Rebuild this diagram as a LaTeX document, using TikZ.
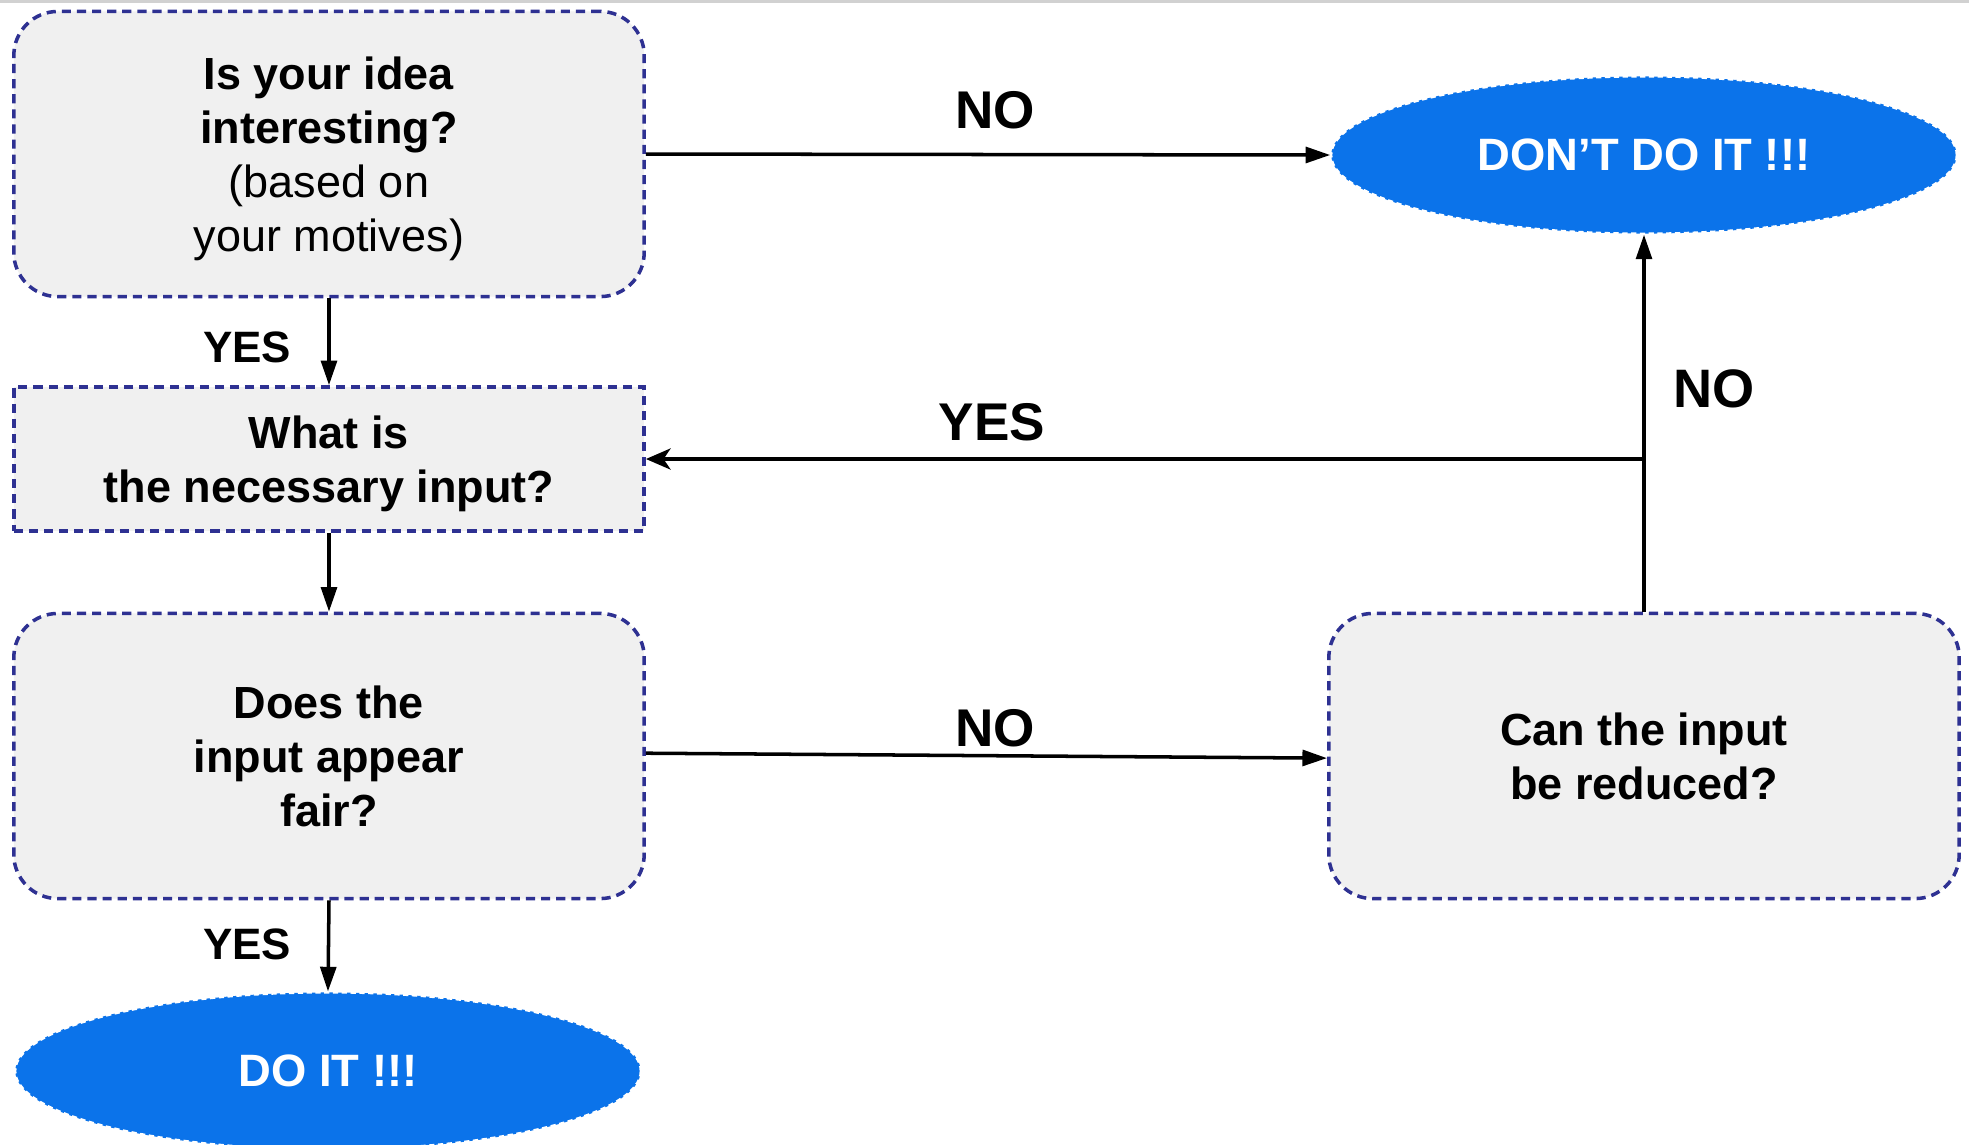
\documentclass[tikz,border=0pt]{standalone}
\usepackage{fontspec}
\setmainfont{Liberation Sans}
\usetikzlibrary{shapes.geometric, arrows.meta, positioning, calc}

\definecolor{boxline}{RGB}{46,49,146}
\definecolor{boxfill}{RGB}{240,240,240}
\definecolor{endblue}{RGB}{11,115,234}

\tikzset{
  question/.style={draw=boxline, fill=boxfill, line width=1pt, dash pattern=on 2.6pt off 1.7pt,
    rounded corners=0.44cm, minimum width=6.3cm, minimum height=2.85cm, align=center,
    inner sep=0pt, text depth=0pt, font=\fontsize{12.8}{15.4}\selectfont},
  inputbox/.style={question, rounded corners=0pt, minimum height=1.44cm},
  verdict/.style={ellipse, draw=white, fill=endblue, line width=0.6pt, dash pattern=on 1.5pt off 1pt,
    minimum width=6.25cm, minimum height=1.57cm, inner sep=0pt, text=white,
    font=\fontsize{12.9}{15}\selectfont\bfseries},
  link/.style={line width=1pt, -{Triangle[length=7pt,width=4.5pt]}},
  answer/.style={font=\fontsize{#1}{#1}\selectfont\bfseries},
  answer/.default=15
}

\begin{document}
\begin{tikzpicture}[x=0.01cm, y=-0.01cm]
\useasboundingbox (0,0) rectangle (1969,1144);
\fill[black!18] (0,0) rectangle (1969,3);
% questions
\node[question] (idea) at (329,154) {\textbf{Is your idea}\\\textbf{interesting?}\\(based on\\your motives)};
\node[inputbox] (need) at (329,459) {\textbf{What is}\\\textbf{the necessary input?}};
\node[question] (fair) at (329,756) {\textbf{Does the}\\\textbf{input appear}\\\textbf{fair?}};
\node[question] (reduce) at (1644,756) {\textbf{Can the input}\\\textbf{be reduced?}};
% outcomes
\node[verdict] (doit) at (328,1071) {DO IT !!!};
\node[verdict] (dont) at (1644,155) {DON’T DO IT !!!};
\coordinate (turn) at (1644,459);
% arrows
\draw[link] (idea.east) -- (dont.west);
\draw[link] (idea.south) -- (need.north);
\draw[link] (need.south) -- (fair.north);
\draw[link] ([yshift=0.8pt]fair.east) -- ([yshift=-0.6pt]reduce.west);
\draw[link] (fair.south) -- (doit.north);
\draw[link] (reduce.north) -- (dont.south);
\draw[line width=1pt, -{Stealth[length=7pt,width=6pt,inset=2pt]}] (turn) -- (need.east);
% labels
\node[answer=15.1] (no1) at (995,110) {NO};
\node[answer=12.5] (yes1) at (247,347) {YES};
\node[answer=15.1] (yes2) at (992,422) {YES};
\node[answer=15.1] (no2) at (995,728) {NO};
\node[answer=12.5] (yes3) at (247,944) {YES};
\node[answer=15.4] (no3) at (1714,389) {NO};
\end{tikzpicture}
\end{document}
